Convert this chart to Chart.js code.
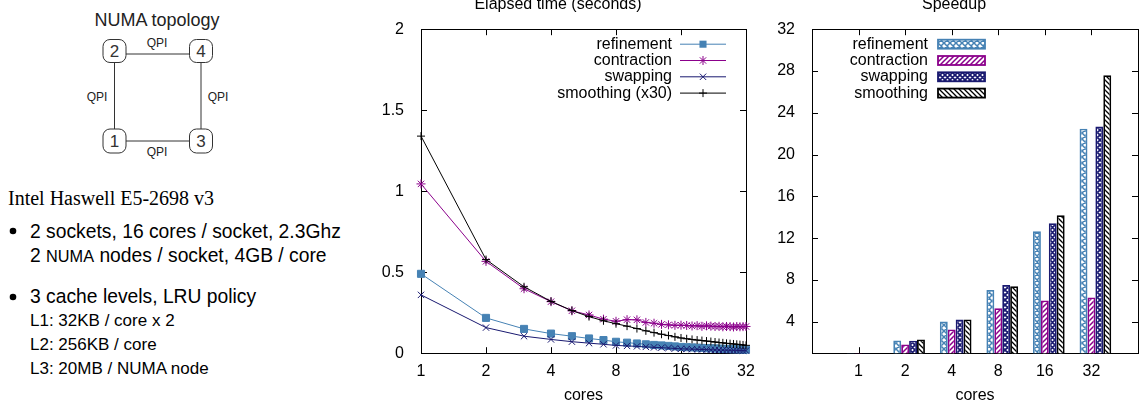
<!DOCTYPE html>
<html>
<head>
<meta charset="utf-8">
<script src="https://cdn.jsdelivr.net/npm/chart.js@4.4.1/dist/chart.umd.min.js"></script>
<style>
  body { margin: 0; width: 1141px; height: 402px; overflow: hidden; background: #fff; position: relative; }
  svg, canvas { position: absolute; }
  #info { left: 0; top: 0; font-family: "Liberation Sans", Arial, sans-serif; }
  #timeChart { left: 370px; top: -5px; }
  #speedupChart { left: 770px; top: -5px; }
</style>
</head>
<body>

<svg id="info" width="370" height="402">
  <text x="157" y="26" text-anchor="middle" font-size="18" fill="#222">NUMA topology</text>
  <g stroke="#333" stroke-width="1" fill="none">
    <line x1="126" y1="54" x2="189.5" y2="54"/>
    <line x1="126" y1="141" x2="189.5" y2="141"/>
    <line x1="114.5" y1="63" x2="114.5" y2="129"/>
    <line x1="201" y1="63" x2="201" y2="129"/>
    <rect x="103" y="39.5" width="23" height="23" rx="7"/>
    <rect x="189.5" y="39.5" width="23" height="23" rx="7"/>
    <rect x="103" y="129" width="23" height="24" rx="7"/>
    <rect x="189.5" y="129" width="23" height="24" rx="7"/>
  </g>
  <g font-size="17" fill="#333" text-anchor="middle">
    <text x="114.5" y="57">2</text>
    <text x="201" y="57">4</text>
    <text x="114.5" y="147">1</text>
    <text x="201" y="147">3</text>
  </g>
  <g font-size="12" fill="#222" text-anchor="middle">
    <text x="157" y="47">QPI</text>
    <text x="97" y="101">QPI</text>
    <text x="218" y="101">QPI</text>
    <text x="157" y="156">QPI</text>
  </g>
  <text x="8" y="205" font-family="'Liberation Serif', 'Times New Roman', serif" font-size="20">Intel Haswell E5-2698 v3</text>
  <circle cx="13" cy="231" r="3.3" fill="#000"/>
  <text x="30" y="238" font-size="19.3">2 sockets, 16 cores / socket, 2.3Ghz</text>
  <text x="30" y="261.5" font-size="19.3">2 <tspan font-size="16.3">NUMA</tspan> nodes / socket, 4GB / core</text>
  <circle cx="13" cy="297" r="3.3" fill="#000"/>
  <text x="30" y="303" font-size="19.3">3 cache levels, LRU policy</text>
  <text x="30" y="325.5" font-size="17">L1: 32KB / core x 2</text>
  <text x="30" y="349.5" font-size="17">L2: 256KB / core</text>
  <text x="30" y="373.5" font-size="17">L3: 20MB / NUMA node</text>
</svg>

<canvas id="timeChart" width="390" height="410"></canvas>
<canvas id="speedupChart" width="371" height="410"></canvas>

<script>
// elapsed time, one point per core count
const cores = [1, 2, 3, 4, 5, 6, 7, 8, 9, 10, 11, 12, 13, 14, 15, 16,
  17, 18, 19, 20, 21, 22, 23, 24, 25, 26, 27, 28, 29, 30, 31, 32];
const refinementTime = [0.49, 0.218, 0.15, 0.121, 0.105, 0.091, 0.081, 0.0705, 0.065, 0.06, 0.055, 0.051, 0.048, 0.045, 0.042, 0.0387,
  0.037, 0.0355, 0.034, 0.0325, 0.031, 0.03, 0.029, 0.028, 0.027, 0.026, 0.0252, 0.0245, 0.0238, 0.0231, 0.0225, 0.0218];
const contractionTime = [1.045, 0.567, 0.398, 0.318, 0.262, 0.236, 0.21, 0.197, 0.207, 0.206, 0.19, 0.185, 0.178, 0.175, 0.172, 0.173,
  0.171, 0.168, 0.17, 0.166, 0.169, 0.167, 0.165, 0.166, 0.163, 0.165, 0.164, 0.162, 0.165, 0.163, 0.164, 0.165];
const swappingTime = [0.36, 0.158, 0.105, 0.085, 0.071, 0.062, 0.055, 0.048, 0.045, 0.042, 0.039, 0.036, 0.034, 0.032, 0.029, 0.0268,
  0.026, 0.025, 0.024, 0.023, 0.022, 0.021, 0.0205, 0.0198, 0.019, 0.0185, 0.018, 0.0175, 0.017, 0.0166, 0.0162, 0.0159];
const smoothingTime = [1.34, 0.578, 0.41, 0.32, 0.263, 0.226, 0.2, 0.182, 0.167, 0.152, 0.138, 0.127, 0.117, 0.109, 0.101, 0.094,
  0.089, 0.085, 0.081, 0.078, 0.075, 0.072, 0.069, 0.066, 0.064, 0.061, 0.059, 0.057, 0.055, 0.053, 0.051, 0.0485];
const timeLabels = ['refinement', 'contraction', 'swapping', 'smoothing (x30)'];
const coreTicks = [1, 2, 4, 8, 16, 32];
const timeTicks = [0, 0.5, 1, 1.5, 2];

// speedup
const speedupCores = ['1', '2', '4', '8', '16', '32'];
const refinementSpeedup = [1, 2.21, 4.04, 7.04, 12.67, 22.47];
const contractionSpeedup = [1, 1.83, 3.27, 5.31, 6.05, 6.34];
const swappingSpeedup = [1, 2.2, 4.23, 7.52, 13.44, 22.7];
const smoothingSpeedup = [1, 2.31, 4.23, 7.4, 14.2, 27.6];
const speedupLabels = ['refinement', 'contraction', 'swapping', 'smoothing'];
const speedupTicks = [4, 8, 12, 16, 20, 24, 28, 32];

const colors = ['#4682b4', '#8b008b', '#191970', '#000000'];
const FONT = '"Liberation Sans", Arial, sans-serif';

Chart.defaults.font.family = FONT;
Chart.defaults.font.size = 16;
Chart.defaults.color = '#000';

// hatch fills like gnuplot patterns
function makePattern(color, kind, size, lw) {
  const c = document.createElement('canvas');
  c.width = size; c.height = size;
  const g = c.getContext('2d');
  g.fillStyle = '#fff';
  g.fillRect(0, 0, size, size);
  g.strokeStyle = color;
  g.lineWidth = lw;
  g.beginPath();
  for (let k = -1; k <= 1; k++) {
    if (kind === 'cross' || kind === 'back') {
      g.moveTo(k * size - 1, -1); g.lineTo(k * size + size + 1, size + 1);
    }
    if (kind === 'cross' || kind === 'fwd') {
      g.moveTo(k * size - 1, size + 1); g.lineTo(k * size + size + 1, -1);
    }
  }
  g.stroke();
  return g.createPattern(c, 'repeat');
}
const patterns = [
  makePattern(colors[0], 'cross', 6, 1.5),
  makePattern(colors[1], 'fwd', 5, 1.5),
  makePattern(colors[2], 'cross', 5, 1.7),
  makePattern(colors[3], 'back', 5, 1.3)
];

function drawMarker(ctx, style, x, y, r) {
  ctx.beginPath();
  if (style === 'rect') {
    const s = r * Math.SQRT1_2;
    ctx.rect(x - s, y - s, 2 * s, 2 * s);
    ctx.fill();
    return;
  }
  const d = r * Math.SQRT1_2;
  if (style === 'cross' || style === 'star') {
    ctx.moveTo(x - r, y); ctx.lineTo(x + r, y);
    ctx.moveTo(x, y - r); ctx.lineTo(x, y + r);
  }
  if (style === 'crossRot' || style === 'star') {
    ctx.moveTo(x - d, y - d); ctx.lineTo(x + d, y + d);
    ctx.moveTo(x - d, y + d); ctx.lineTo(x + d, y - d);
  }
  ctx.stroke();
}

// border box + inward ticks on all four sides
const frame = {
  id: 'frame',
  beforeDatasetsDraw(chart) {
    const {ctx, chartArea: a, scales} = chart;
    const len = 6;
    ctx.save();
    ctx.strokeStyle = '#000';
    ctx.lineWidth = 1;
    ctx.beginPath();
    scales.y.ticks.forEach((t, i) => {
      const y = Math.round(scales.y.getPixelForTick(i)) + 0.5;
      ctx.moveTo(a.left, y); ctx.lineTo(a.left + len, y);
      ctx.moveTo(a.right, y); ctx.lineTo(a.right - len, y);
    });
    scales.x.ticks.forEach((t, i) => {
      if (t.label === '') return;
      const x = Math.round(scales.x.getPixelForTick(i)) + 0.5;
      ctx.moveTo(x, a.top); ctx.lineTo(x, a.top + len);
      ctx.moveTo(x, a.bottom); ctx.lineTo(x, a.bottom - len);
    });
    ctx.stroke();
    ctx.strokeRect(Math.round(a.left) + 0.5, Math.round(a.top) + 0.5,
      Math.round(a.right) - Math.round(a.left), Math.round(a.bottom) - Math.round(a.top));
    ctx.restore();
  }
};

const lineKey = {
  id: 'lineKey',
  afterDatasetsDraw(chart) {
    const {ctx, chartArea: a} = chart;
    ctx.save();
    ctx.font = '16px ' + FONT;
    ctx.textAlign = 'right';
    ctx.textBaseline = 'middle';
    chart.data.datasets.forEach((ds, i) => {
      const y = a.top + 15 + i * 16.3;
      const x1 = a.right - 66, x2 = a.right - 20;
      ctx.fillStyle = '#000';
      ctx.fillText(ds.label, x1 - 8, y);
      ctx.strokeStyle = ds.borderColor;
      ctx.fillStyle = ds.borderColor;
      ctx.lineWidth = 1;
      ctx.beginPath(); ctx.moveTo(x1, y); ctx.lineTo(x2, y); ctx.stroke();
      drawMarker(ctx, ds.pointStyle, (x1 + x2) / 2, y, ds.pointRadius);
    });
    ctx.restore();
  }
};

const barKey = {
  id: 'barKey',
  afterDatasetsDraw(chart) {
    const {ctx, chartArea: a} = chart;
    ctx.save();
    ctx.font = '16px ' + FONT;
    ctx.textAlign = 'right';
    ctx.textBaseline = 'middle';
    chart.data.datasets.filter(ds => ds.label).forEach((ds, i) => {
      const y = a.top + 15 + i * 16.3;
      ctx.fillStyle = '#000';
      ctx.fillText(ds.label, a.left + 116, y);
      ctx.fillStyle = ds.backgroundColor;
      ctx.fillRect(a.left + 126, y - 4.5, 47, 9);
      ctx.strokeStyle = ds.borderColor;
      ctx.lineWidth = 1.8;
      ctx.strokeRect(a.left + 126, y - 4.5, 47, 9);
    });
    ctx.restore();
  }
};

const timeSeries = [refinementTime, contractionTime, swappingTime, smoothingTime];
const markers = [['rect', 5], ['star', 4.5], ['crossRot', 4.5], ['cross', 4]];

new Chart(document.getElementById('timeChart'), {
  type: 'line',
  data: {
    datasets: timeSeries.map((vals, i) => ({
      label: timeLabels[i],
      data: cores.map((c, j) => ({x: c, y: vals[j]})),
      borderColor: colors[i],
      backgroundColor: colors[i],
      borderWidth: 1,
      pointStyle: markers[i][0],
      pointRadius: markers[i][1],
      pointBorderWidth: 1,
      pointBackgroundColor: colors[i],
      pointBorderColor: colors[i],
      tension: 0,
      clip: false,
      order: 3 - i
    }))
  },
  options: {
    responsive: false,
    animation: false,
    layout: { padding: { left: 0, right: 14, top: 0, bottom: 0 } },
    plugins: {
      legend: { display: false },
      tooltip: { enabled: false },
      title: { display: true, text: 'Elapsed time (seconds)', color: '#000',
        font: { size: 16, weight: 'normal' }, padding: { top: 0, bottom: 15 } }
    },
    scales: {
      x: {
        type: 'logarithmic', min: 1, max: 32,
        afterBuildTicks: s => { s.ticks = coreTicks.map(v => ({value: v})); },
        afterFit: s => { s.height = 51.8; },
        grid: { display: false }, border: { display: false },
        ticks: { padding: 1.2, autoSkip: false, maxRotation: 0, callback: v => String(v) },
        title: { display: true, text: 'cores', padding: 0 }
      },
      y: {
        min: 0, max: 2,
        afterBuildTicks: s => { s.ticks = timeTicks.map(v => ({value: v})); },
        afterFit: s => { s.width = 51; },
        grid: { display: false }, border: { display: false },
        ticks: { padding: 9, callback: v => String(v) }
      }
    }
  },
  plugins: [frame, lineKey]
});

const speedupSeries = [refinementSpeedup, contractionSpeedup, swappingSpeedup, smoothingSpeedup];
const blank = speedupCores.map(() => null);

new Chart(document.getElementById('speedupChart'), {
  type: 'bar',
  data: {
    labels: ['', ...speedupCores, ''],
    datasets: [
      // empty first slot: gnuplot sets each cluster a bit right of its tick
      { label: '', data: [null, ...blank, null] },
      ...speedupSeries.map((vals, i) => ({
        label: speedupLabels[i],
        data: [null, ...vals, null],
        backgroundColor: patterns[i],
        borderColor: colors[i],
        borderWidth: 1.8,
        borderSkipped: false
      }))
    ]
  },
  options: {
    responsive: false,
    animation: false,
    barPercentage: 1,
    categoryPercentage: 0.85,
    layout: { padding: { left: 0, right: 3, top: 0, bottom: 0 } },
    plugins: {
      legend: { display: false },
      tooltip: { enabled: false },
      title: { display: true, text: 'Speedup', color: '#000',
        font: { size: 16, weight: 'normal' }, padding: { top: 0, bottom: 15 } }
    },
    scales: {
      x: {
        offset: false,
        afterFit: s => { s.height = 51.8; },
        grid: { display: false }, border: { display: false },
        ticks: { padding: 1.2, autoSkip: false, maxRotation: 0 },
        title: { display: true, text: 'cores', padding: 0 }
      },
      y: {
        min: 1, max: 32,
        afterBuildTicks: s => { s.ticks = speedupTicks.map(v => ({value: v})); },
        afterFit: s => { s.width = 42; },
        grid: { display: false }, border: { display: false },
        ticks: { padding: 9 }
      }
    }
  },
  plugins: [frame, barKey]
});
</script>
</body>
</html>
